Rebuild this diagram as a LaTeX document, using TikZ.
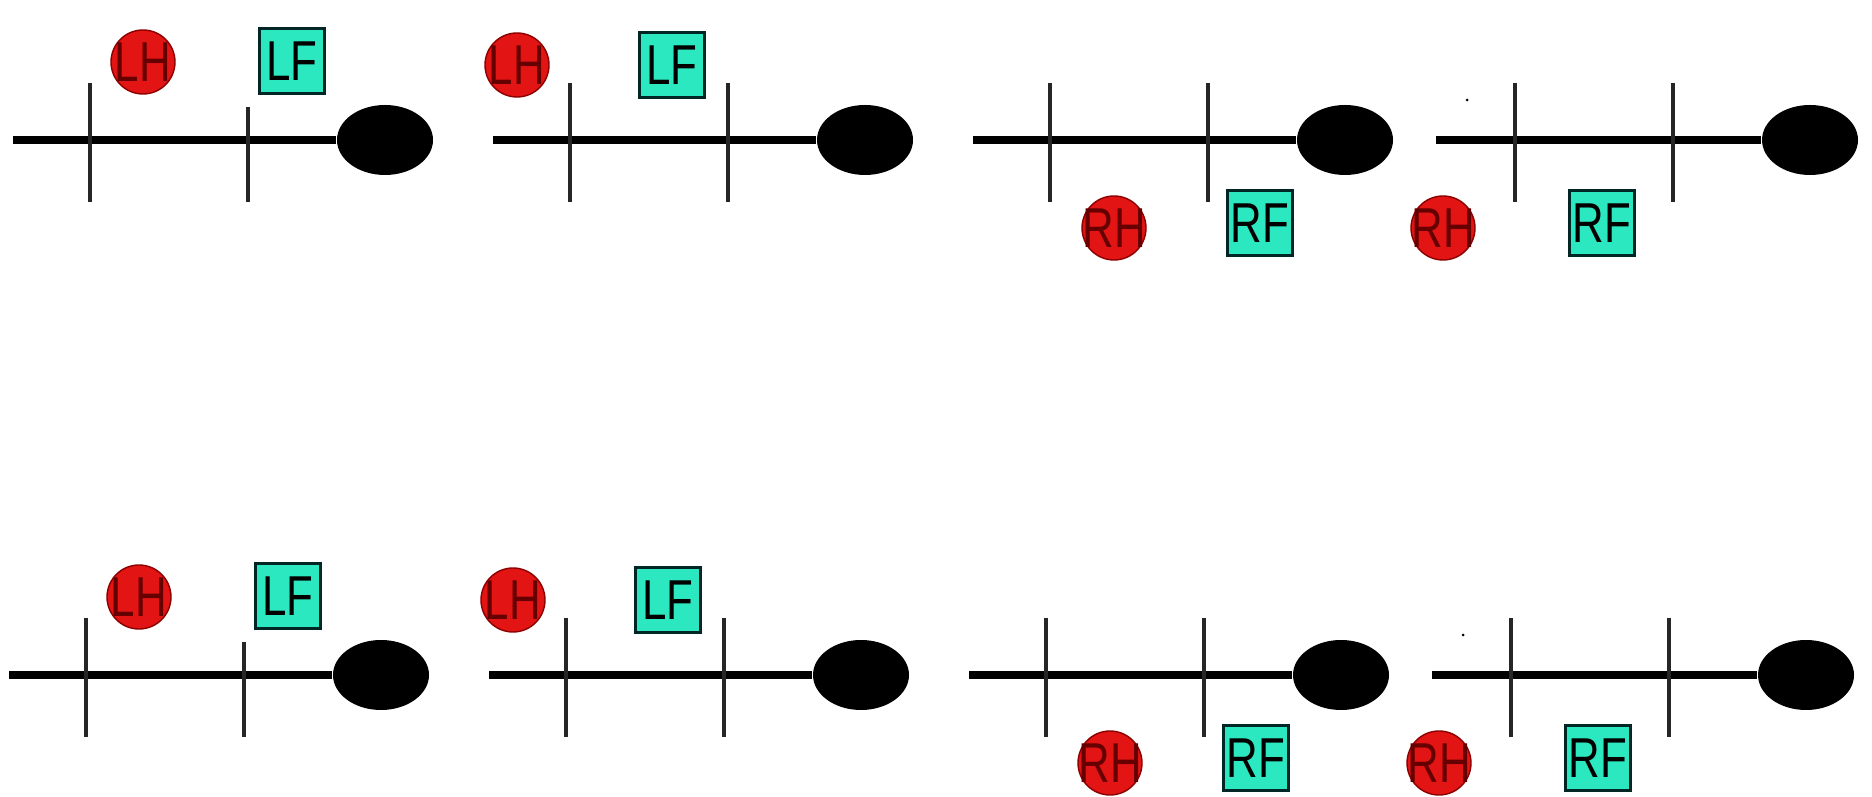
\documentclass[tikz,border=0pt]{standalone}
\usepackage{fontspec}
\setmainfont{Liberation Sans}
\usetikzlibrary{shapes.geometric}
\definecolor{handred}{RGB}{226,20,20}
\definecolor{footcyan}{RGB}{44,232,192}
\newcommand{\narrowlbl}[1]{\makebox[0pt]{\scalebox{0.78}[1]{#1}}}

\begin{document}
\begin{tikzpicture}[x=0.1mm, y=-0.1mm,
  hand/.style={circle, draw=red!55!black, fill=handred, minimum size=6.4mm,
               inner sep=0pt, text=red!40!black, font=\fontsize{16}{16}\selectfont},
  foot/.style={rectangle, draw=black!70!teal, line width=0.8pt, fill=footcyan,
               minimum size=6.5mm, inner sep=0pt, font=\fontsize{16}{16}\selectfont},
  body/.style={ellipse, fill=black, minimum width=9.6mm, minimum height=7mm, inner sep=0pt},
  spine/.style={line width=2pt},
  leg/.style={line width=1.4pt, black!85}
]
\useasboundingbox (0,0) rectangle (1872,797);

\foreach \r/\dx/\dy in {t/0/0, b/-4/535}{
  \begin{scope}[shift={(\dx,\dy)}]
  \foreach \p/\s/\ta/\tat/\tb/\tbt/\e/\side/\hx/\hy/\fx/\fy in {
      1/13/90/83/248/107/385/L/143/62/292/61,
      2/493/570/83/728/83/865/L/517/65/672/65,
      3/973/1050/83/1208/83/1345/R/1114/228/1260/223,
      4/1436/1515/83/1673/83/1810/R/1443/228/1602/223}{
    \coordinate (s\r\p) at (\s,140);
    \node[body] (ell\r\p) at (\e,140) {};
    \draw[spine] (s\r\p) -- (ell\r\p.west);
    \draw[leg] (\ta,\tat) -- (\ta,202);
    \draw[leg] (\tb,\tbt) -- (\tb,202);
    \node[hand] (h\r\p) at (\hx,\hy) {\narrowlbl{\side H}};
    \node[foot] (f\r\p) at (\fx,\fy) {\narrowlbl{\side F}};
  }
  \fill (1467,100) circle (1.5);
  \end{scope}
}
\end{tikzpicture}
\end{document}
